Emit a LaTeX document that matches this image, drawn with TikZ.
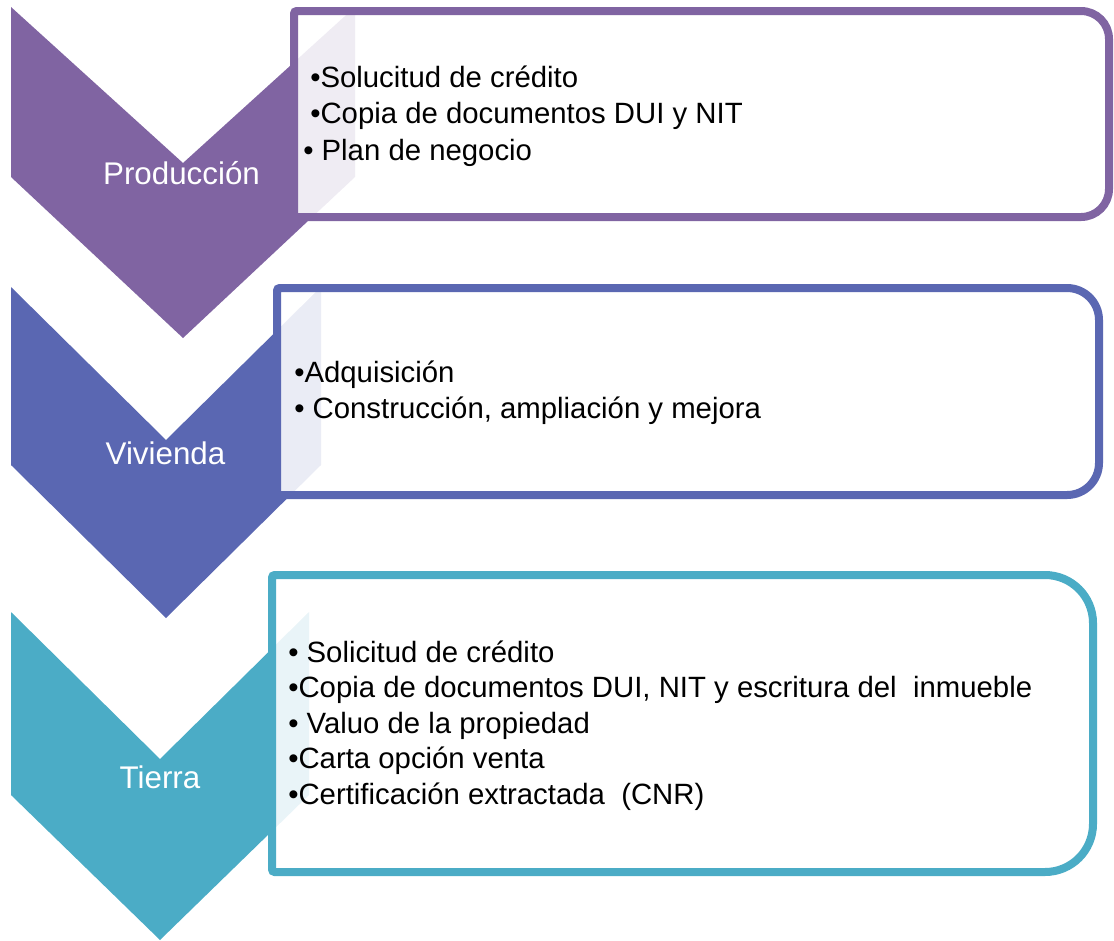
\documentclass[tikz,border=0pt]{standalone}
\usepackage{fontspec}
\setmainfont{Liberation Sans}
\usepackage{tikz}
\definecolor{prodcolor}{HTML}{8064A2}
\definecolor{vivcolor}{HTML}{5A67B2}
\definecolor{tiercolor}{HTML}{4BACC6}

\begin{document}
\begin{tikzpicture}[x=0.75pt,y=-0.75pt,
    itemtext/.style={anchor=base west,inner sep=0pt,font=\fontsize{22}{26}\selectfont},
    chevtext/.style={anchor=base,inner sep=0pt,text=white,font=\fontsize{23.5}{28}\selectfont},
    panel/.style={line width=6pt,fill=white,fill opacity=0.88,rounded corners=2pt}]
      \useasboundingbox (0,0) rectangle (1114,940);

      % Produccion
      \fill[prodcolor] (11,7) -- (183,163) -- (355,7) -- (355,177) -- (183,338) -- (11,177) -- cycle;
      \draw[panel,draw=prodcolor] (294,114) -- (294,11) -- (700,11) [rounded corners=21pt]
        -- (1109,11) -- (1109,217) -- (700,217) [rounded corners=2pt] -- (294,217) -- cycle;
      \node[chevtext] (prod) at (181.5,184) {Producción};
      \node[itemtext] (prod1) at (310,87) {•Solucitud de crédito};
      \node[itemtext] (prod2) at (310,123) {•Copia de documentos DUI y NIT};
      \node[itemtext] (prod3) at (303,160) {• Plan de negocio};

      % Vivienda
      \fill[vivcolor] (11,287) -- (166,440) -- (321,287) -- (321,465) -- (166,618) -- (11,465) -- cycle;
      \draw[panel,draw=vivcolor] (277,390) -- (277,288) -- (700,288) [rounded corners=24pt]
        -- (1099,288) -- (1099,495) -- (700,495) [rounded corners=2pt] -- (277,495) -- cycle;
      \node[chevtext] (viv) at (165.5,464) {Vivienda};
      \node[itemtext] (viv1) at (294,382) {•Adquisición};
      \node[itemtext] (viv2) at (294,418) {• Construcción, ampliación y mejora};

      % Tierra
      \fill[tiercolor] (11,612) -- (160,759) -- (309,612) -- (309,795) -- (160,940) -- (11,795) -- cycle;
      \draw[panel,draw=tiercolor] (272,720) -- (272,575) -- (700,575) [rounded corners=36pt]
        -- (1093,575) -- (1093,872) -- (700,872) [rounded corners=2pt] -- (272,872) -- cycle;
      \node[chevtext] (tier) at (160,788) {Tierra};
      \node[itemtext] (tier1) at (288,662) {• Solicitud de crédito};
      \node[itemtext] (tier2) at (288,697.5) {•Copia de documentos DUI, NIT y escritura del\ \ inmueble};
      \node[itemtext] (tier3) at (288,733) {• Valuo de la propiedad};
      \node[itemtext] (tier4) at (288,768.5) {•Carta opción venta};
      \node[itemtext] (tier5) at (288,804) {•Certificación extractada\ \ (CNR)};
  \end{tikzpicture}
\end{document}
